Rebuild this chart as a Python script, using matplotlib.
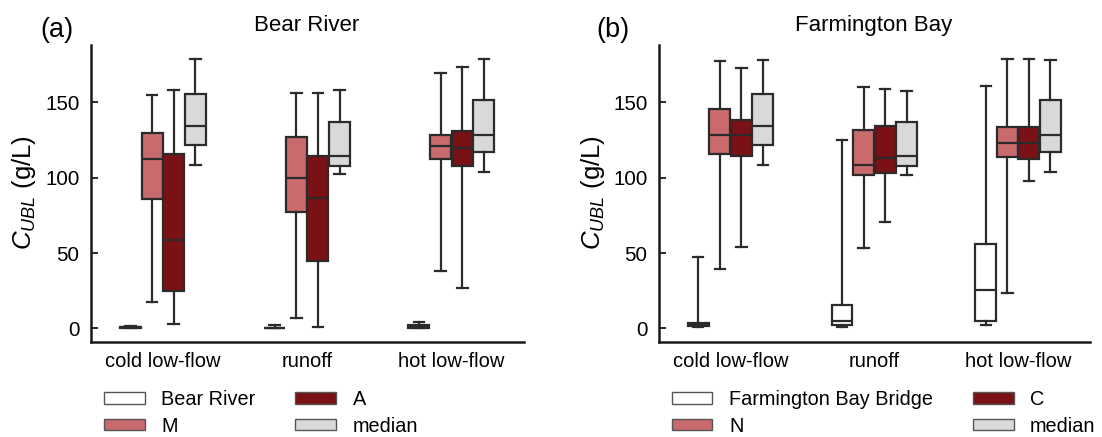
import matplotlib
matplotlib.use('Agg')
import matplotlib.pyplot as plt
from matplotlib.patches import Patch

plt.rcParams['font.family'] = ['Liberation Sans', 'DejaVu Sans']
plt.rcParams['mathtext.fontset'] = 'custom'
plt.rcParams['mathtext.it'] = 'Liberation Sans:italic'
plt.rcParams['mathtext.rm'] = 'Liberation Sans'

categories = ["cold low-flow", "runoff", "hot low-flow"]

# each entry: [whisker low, Q1, median, Q3, whisker high] per category
# panel (a) Bear River
a_labels = ["Bear River", "M", "A", "median"]
bear_river = [[0.0, 0.2, 0.8, 1.2, 1.6], [0.0, 0.0, 0.2, 0.5, 2.2], [0.0, 0.5, 1.0, 2.0, 4.4]]
site_m = [[17.3, 85.8, 112.4, 129.9, 154.9], [6.6, 77.0, 99.6, 127.2, 156.4], [38.0, 112.6, 121.0, 128.5, 169.7]]
site_a = [[2.7, 24.8, 58.6, 115.5, 158.0], [0.7, 44.5, 86.7, 114.6, 156.0], [26.5, 108.0, 119.9, 131.2, 173.2]]
median_a = [[108.4, 121.7, 134.5, 155.8, 178.8], [102.4, 107.7, 114.6, 137.0, 158.0], [103.8, 117.3, 128.1, 151.3, 178.5]]

# panel (b) Farmington Bay
b_labels = ["Farmington Bay Bridge", "N", "C", "median"]
fbb = [[0.8, 1.5, 2.8, 3.8, 47.6], [0.7, 2.4, 4.6, 15.4, 125.3], [2.2, 5.1, 25.8, 55.8, 161.0]]
site_n = [[39.3, 115.4, 128.0, 145.8, 177.4], [53.2, 101.5, 108.3, 131.9, 160.4], [23.6, 113.6, 122.7, 133.7, 178.5]]
site_c = [[54.3, 114.3, 128.0, 138.5, 172.7], [70.6, 103.2, 113.0, 134.6, 158.6], [97.9, 112.7, 122.7, 133.7, 178.5]]
median_b = [[108.3, 121.8, 134.6, 155.7, 177.9], [102.1, 107.7, 114.7, 136.8, 157.7], [103.7, 117.1, 128.0, 151.3, 178.0]]

colors = ["#FFFFFF", "#C96A6D", "#7A1114", "#D9D9D9"]
edge = "#2B2B2B"

W, H = 1102, 437
fig = plt.figure(figsize=(W / 100, H / 100), dpi=100)

def fx(px):
    return px / W

def fy(py):
    return 1 - py / H

ax_a = fig.add_axes([fx(90.7), fy(342), fx(523.6) - fx(90.7), fy(45) - fy(342)])
ax_b = fig.add_axes([fx(658.7), fy(342), fx(1090) - fx(658.7), fy(45) - fy(342)])

def draw(ax, series, labels):
    width = 0.15
    lw = 1.6
    for j, (ser, col) in enumerate(zip(series, colors)):
        stats = []
        pos = []
        for i, v in enumerate(ser):
            stats.append(dict(whislo=v[0], q1=v[1], med=v[2], q3=v[3], whishi=v[4], fliers=[]))
            pos.append(i + (j - 1.5) * width)
        ax.bxp(stats, positions=pos, widths=width * 0.97, patch_artist=True, showfliers=False,
               boxprops=dict(facecolor=col, edgecolor=edge, linewidth=lw),
               medianprops=dict(color=edge, linewidth=lw),
               whiskerprops=dict(color=edge, linewidth=lw),
               capprops=dict(color=edge, linewidth=lw),
               manage_ticks=False)
    ax.set_xlim(-0.5, 2.5)
    ax.set_ylim(-9.0, 188)
    ax.set_xticks(range(len(categories)))
    ax.set_xticklabels(categories, fontsize=14.5)
    ax.set_yticks([0, 50, 100, 150])
    ax.tick_params(axis='x', length=0, pad=7)
    ax.tick_params(axis='y', direction='in', length=5, width=1.4, labelsize=14.8, pad=8, color=edge)
    for s in ['top', 'right']:
        ax.spines[s].set_visible(False)
    for s in ['left', 'bottom']:
        ax.spines[s].set_linewidth(1.8)
        ax.spines[s].set_color('#1A1A1A')

draw(ax_a, [bear_river, site_m, site_a, median_a], a_labels)
draw(ax_b, [fbb, site_n, site_c, median_b], b_labels)

ylab = r'$C_{UBL}$ (g/L)'
fig.text(fx(24.3), fy(193), ylab, rotation=90, ha='center', va='center', fontsize=18.5)
fig.text(fx(593), fy(193), ylab, rotation=90, ha='center', va='center', fontsize=18.5)

fig.text(fx(307), fy(31), "Bear River", ha='center', va='baseline', fontsize=16)
fig.text(fx(874), fy(31), "Farmington Bay", ha='center', va='baseline', fontsize=16)
fig.text(fx(57.3), fy(37.4), "(a)", ha='center', va='baseline', fontsize=19.5)
fig.text(fx(612.5), fy(37.4), "(b)", ha='center', va='baseline', fontsize=19.5)

def legend(labels, x_left):
    handles = [Patch(facecolor=c, edgecolor='#555555', linewidth=1.0) for c in colors]
    fig.legend(handles, labels, ncol=2, loc='upper left', bbox_to_anchor=(fx(x_left), fy(390)),
               frameon=False, fontsize=14.3, handlelength=2.06, handleheight=0.54,
               handletextpad=0.83, columnspacing=2.0, labelspacing=0.38,
               borderpad=0, borderaxespad=0)

legend(a_labels, 104)
legend(b_labels, 671.5)

fig.savefig('out.png', dpi=100)
